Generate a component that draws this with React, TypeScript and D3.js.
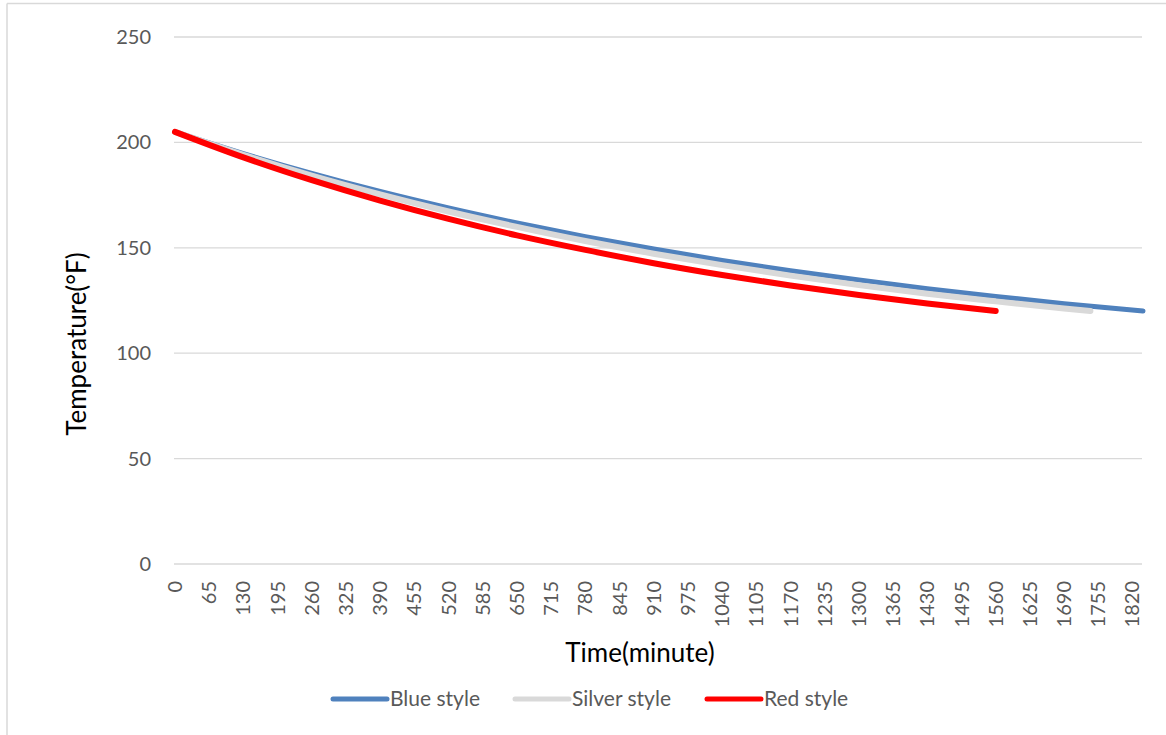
import React from "react";
import * as d3 from "d3";

// time (minutes) and temperature (°F)
const blueTime = [0, 130, 260, 390, 520, 650, 780, 910, 1040, 1170, 1300, 1430, 1560, 1690, 1840];
const blueTemp = [205, 194.7, 185.3, 176.7, 168.9, 161.8, 155.3, 149.4, 144.0, 139.1, 134.7, 130.6, 126.9, 123.5, 120];

const silverTime = [0, 130, 260, 390, 520, 650, 780, 910, 1040, 1170, 1300, 1430, 1560, 1690, 1740];
const silverTemp = [205, 194.1, 184.2, 175.3, 167.2, 159.9, 153.2, 147.2, 141.8, 136.8, 132.3, 128.2, 124.6, 121.2, 120];

const redTime = [0, 130, 260, 390, 520, 650, 780, 910, 1040, 1170, 1300, 1430, 1560];
const redTemp = [205, 192.9, 182.1, 172.4, 163.7, 155.9, 149.0, 142.7, 137.1, 132.1, 127.6, 123.6, 120];

const xTicks = d3.range(0, 1821, 65);
const yTicks = [0, 50, 100, 150, 200, 250];

const series = [
  { name: "Blue style", time: blueTime, temp: blueTemp, color: "#4F81BD", width: 5, lx: 333 },
  { name: "Silver style", time: silverTime, temp: silverTemp, color: "#D9D9D9", width: 6, lx: 515 },
  { name: "Red style", time: redTime, temp: redTemp, color: "#FF0000", width: 6, lx: 707 },
];

const width = 1166;
const height = 735;
const font = "Lato, 'Open Sans', sans-serif";

export default function App() {
  const x = d3.scaleLinear().domain([0, 1840]).range([175, 1143]);
  const y = d3.scaleLinear().domain([0, 250]).range([564, 37]);

  const line = d3
    .line<[number, number]>()
    .x((d) => x(d[0]))
    .y((d) => y(d[1]))
    .curve(d3.curveMonotoneX);

  return (
    <svg
      width={width}
      height={height}
      style={{ position: "absolute", left: 0, top: 0, background: "#fff" }}
      fontFamily={font}
    >
      {/* chart border */}
      <line x1={7} x2={width} y1={3.5} y2={3.5} stroke="#D9D9D9" strokeWidth={1.5} />
      <line x1={7} x2={7} y1={3.5} y2={height} stroke="#D9D9D9" strokeWidth={1.5} />

      {/* gridlines + y labels */}
      {yTicks.map((t) => (
        <g key={t}>
          <line x1={174} x2={1142} y1={y(t)} y2={y(t)} stroke="#D9D9D9" strokeWidth={1.3} />
          <text x={151} y={y(t)} dy="0.35em" textAnchor="end" fontSize={20} fill="#595959">
            {t}
          </text>
        </g>
      ))}

      {/* x labels */}
      {xTicks.map((t) => (
        <text
          key={t}
          transform={`translate(${x(t)},581) rotate(-90)`}
          dy="0.35em"
          textAnchor="end"
          fontSize={20}
          fill="#595959"
        >
          {t}
        </text>
      ))}

      {/* series */}
      {series.map((s) => (
        <path
          key={s.name}
          d={line(s.time.map((t, i) => [t, s.temp[i]] as [number, number])) || ""}
          fill="none"
          stroke={s.color}
          strokeWidth={s.width}
          strokeLinecap="round"
          strokeLinejoin="round"
        />
      ))}

      {/* axis titles */}
      <text x={640} y={662} textAnchor="middle" fontSize={26} fill="#000">
        Time(minute)
      </text>
      <text transform="translate(86,344) rotate(-90)" textAnchor="middle" fontSize={26} fill="#000">
        Temperature(°F)
      </text>

      {/* legend */}
      {series.map((s) => (
        <g key={s.name}>
          <line x1={s.lx} x2={s.lx + 54} y1={699} y2={699} stroke={s.color} strokeWidth={5} strokeLinecap="round" />
          <text x={s.lx + 57} y={699} dy="0.35em" fontSize={21} fill="#595959">
            {s.name}
          </text>
        </g>
      ))}
    </svg>
  );
}
